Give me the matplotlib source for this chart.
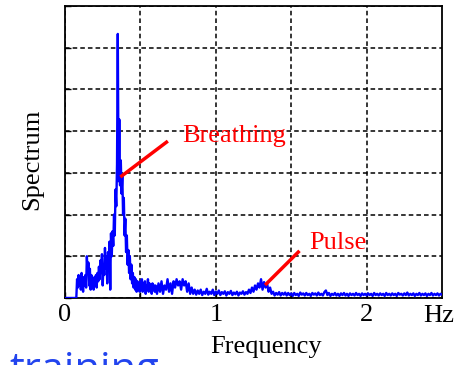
import numpy as np
import matplotlib
matplotlib.use('Agg')
import matplotlib.pyplot as plt
from matplotlib.transforms import blended_transform_factory

# Spectrum (grid units, 7 divisions on the y axis)
# fine part: 0.080 Hz .. 0.595 Hz, step 0.005
spec_lo = [0.45, 0.25, 0.55, 0.3, 0.5, 0.2, 0.6, 0.35, 0.15, 0.5,
           0.3, 0.55, 0.25, 1.0, 0.6, 0.85, 0.3, 0.7, 0.2, 0.55,
           0.3, 0.45, 0.2, 0.5, 0.35, 0.55, 0.25, 0.6, 0.4, 0.75,
           0.45, 0.9, 0.6, 1.05, 0.3, 0.8, 0.55, 1.2, 0.7, 1.0,
           0.35, 1.1, 0.8, 1.35, 0.2, 1.55, 1.0, 1.6, 1.25, 2.0,
           1.5, 2.6, 2.2, 3.2, 6.33, 2.8, 4.28, 2.7, 3.3, 2.5,
           2.95, 2.0, 2.4, 1.5, 1.9, 1.1, 1.5, 0.8, 1.15, 0.6,
           1.0, 0.45, 0.8, 0.35, 0.6, 0.25, 0.5, 0.2, 0.45, 0.15,
           0.4, 0.2, 0.35, 0.15, 0.4, 0.2, 0.45, 0.15, 0.35, 0.2,
           0.4, 0.1, 0.3, 0.2, 0.45, 0.15, 0.35, 0.2, 0.3, 0.1,
           0.35, 0.2, 0.3, 0.15]
# coarse part: 0.60 Hz .. 2.50 Hz, step 0.01
spec_hi = [0.3, 0.1, 0.35, 0.15, 0.4, 0.1, 0.3, 0.2, 0.45, 0.15,
           0.35, 0.1, 0.4, 0.25, 0.45, 0.3, 0.4, 0.2, 0.45, 0.3,
           0.4, 0.15, 0.35, 0.1, 0.25, 0.1, 0.2, 0.08, 0.18, 0.1,
           0.2, 0.07, 0.15, 0.1, 0.22, 0.08, 0.15, 0.1, 0.2, 0.07,
           0.15, 0.1, 0.18, 0.07, 0.14, 0.1, 0.16, 0.06, 0.14, 0.1,
           0.17, 0.07, 0.13, 0.09, 0.15, 0.06, 0.13, 0.1, 0.16, 0.08,
           0.14, 0.1, 0.2, 0.12, 0.25, 0.15, 0.3, 0.2, 0.35, 0.25,
           0.45, 0.2, 0.38, 0.25, 0.35, 0.15, 0.25, 0.1, 0.15, 0.06,
           0.12, 0.08, 0.14, 0.06, 0.12, 0.08, 0.13, 0.06, 0.12, 0.07,
           0.11, 0.05, 0.12, 0.07, 0.1, 0.05, 0.13, 0.08, 0.11, 0.06,
           0.12, 0.07, 0.1, 0.05, 0.12, 0.08, 0.11, 0.06, 0.13, 0.07,
           0.1, 0.06, 0.14, 0.18, 0.07, 0.12, 0.05, 0.1, 0.07, 0.12,
           0.06, 0.1, 0.05, 0.11, 0.07, 0.12, 0.06, 0.1, 0.05, 0.11,
           0.07, 0.1, 0.06, 0.12, 0.07, 0.1, 0.05, 0.11, 0.07, 0.1,
           0.06, 0.11, 0.07, 0.1, 0.05, 0.12, 0.07, 0.1, 0.06, 0.11,
           0.07, 0.1, 0.05, 0.12, 0.07, 0.1, 0.06, 0.11, 0.07, 0.1,
           0.05, 0.12, 0.08, 0.1, 0.06, 0.11, 0.07, 0.13, 0.06, 0.1,
           0.07, 0.11, 0.05, 0.1, 0.07, 0.12, 0.06, 0.1, 0.07, 0.11,
           0.05, 0.1, 0.07, 0.12, 0.06, 0.1, 0.07, 0.11, 0.06, 0.1,
           0.08]
baseline_f = [0.0, 0.075]
baseline_v = [0.0, 0.0]

freq_lo = 0.08 + 0.005 * np.arange(len(spec_lo))
freq_hi = 0.60 + 0.01 * np.arange(len(spec_hi))
freq = np.concatenate([baseline_f, freq_lo, freq_hi])
spec = np.concatenate([baseline_v, spec_lo, spec_hi])

x_ticks = [0, 0.5, 1, 1.5, 2]
x_ticklabels = ['0', '', '1', '', '2']

# annotations: label, text position, pointer line
notes = [
    ('Breathing', (0.78, 3.88), [0.367, 0.682], [2.9, 3.76]),
    ('Pulse', (1.62, 1.33), [1.327, 1.555], [0.31, 1.13]),
]

plt.rcParams['font.family'] = ['Liberation Serif', 'DejaVu Serif']
FS = 19

fig = plt.figure(figsize=(4.62, 3.65), dpi=100)
ax = fig.add_axes([0.1407, 0.1836, 0.816, 0.8])

ax.plot(freq, spec, color='#0000ff', linewidth=1.7, zorder=3)

for label, (tx, ty), lx, ly in notes:
    ax.plot(lx, ly, color='#ff0000', linewidth=2.5, solid_capstyle='butt', zorder=4)
    ax.text(tx, ty, label, color='#ff0000', fontsize=FS, ha='left', va='center')

ax.set_xlim(0, 2.5)
ax.set_ylim(0, 7)
ax.set_xticks(x_ticks)
ax.set_xticklabels(x_ticklabels)
ax.set_yticks(np.arange(0, 8, 1))
ax.set_yticklabels([])
ax.tick_params(direction='in', length=4, width=1, labelsize=FS, pad=4)
ax.grid(True, color='black', linestyle=(0, (3, 2)), linewidth=1.1)
for sp in ax.spines.values():
    sp.set_linewidth(1.3)

trans = blended_transform_factory(ax.transData, ax.transAxes)
ax.text(2.475, -0.025, 'Hz', transform=trans, fontsize=FS, ha='center', va='top')

fig.text(0.576, 0.05, 'Frequency', fontsize=FS, ha='center', va='center')
fig.text(0.07, 0.564, 'Spectrum', fontsize=FS, ha='center', va='center', rotation=90)

# cut-off slide text at the bottom edge
fig.text(0.02, -0.046, 'training', fontsize=30, color='#2244ee',
         family='Open Sans', ha='left', va='baseline')

fig.savefig('out.png', dpi=100)
